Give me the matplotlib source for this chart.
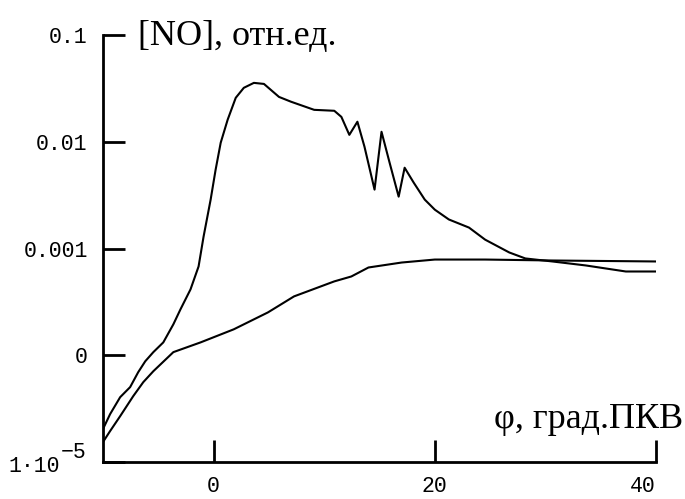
import matplotlib
matplotlib.use("Agg")
import matplotlib.pyplot as plt
from matplotlib.ticker import FixedLocator, FixedFormatter, NullLocator

# crank angle, deg (upper curve with peak)
phi_a = [-10.0, -9.36, -8.45, -7.55, -6.82, -6.18, -5.45, -4.55, -3.64, -3.0,
         -2.09, -1.36, -0.91, -0.27, 0.18, 0.64, 1.27, 2.0, 2.73, 3.64,
         4.55, 5.91, 7.0, 9.09, 10.91, 11.55, 12.27, 13.0, 13.64, 14.55,
         15.18, 15.91, 16.73, 17.27, 18.09, 19.09, 20.0, 21.27, 23.09, 24.55,
         26.73, 28.18, 30.64, 33.64, 37.27, 40.0]
no_a = [2.04e-5, 2.81e-5, 4.05e-5, 5.03e-5, 6.94e-5, 8.79e-5, 1.07e-4, 1.32e-4, 1.95e-4, 2.69e-4,
        4.14e-4, 6.79e-4, 1.29e-3, 2.87e-3, 5.47e-3, 9.79e-3, 1.61e-2, 2.58e-2, 3.20e-2, 3.56e-2,
        3.48e-2, 2.63e-2, 2.37e-2, 1.99e-2, 1.95e-2, 1.71e-2, 1.16e-2, 1.54e-2, 8.98e-3, 3.56e-3,
        1.24e-2, 6.37e-3, 3.06e-3, 5.71e-3, 4.14e-3, 2.87e-3, 2.31e-3, 1.87e-3, 1.57e-3, 1.21e-3,
        9.18e-4, 8.07e-4, 7.56e-4, 6.94e-4, 6.09e-4, 6.09e-4]

# lower, monotone curve
phi_b = [-10.0, -9.36, -8.45, -7.27, -6.36, -5.45, -3.64, -1.18, 1.82, 4.91,
         7.27, 10.91, 12.45, 14.0, 17.0, 20.0, 24.55, 30.64, 40.0]
no_b = [1.54e-5, 1.95e-5, 2.69e-5, 4.14e-5, 5.60e-5, 7.09e-5, 1.07e-4, 1.32e-4, 1.75e-4, 2.52e-4,
        3.56e-4, 4.92e-4, 5.47e-4, 6.64e-4, 7.39e-4, 7.88e-4, 7.88e-4, 7.72e-4, 7.56e-4]

y_ticks = [1e-5, 1e-4, 1e-3, 1e-2, 1e-1]
y_tick_labels = ["", "0", "0.001", "0.01", "0.1"]
x_ticks = [0, 20, 40]
x_tick_labels = ["0", "20", "40"]

MONO = ["Liberation Mono", "DejaVu Sans Mono"]
SERIF = ["Liberation Serif", "DejaVu Serif"]
plt.rcParams["font.family"] = MONO

fig = plt.figure(figsize=(6.85, 4.99), dpi=100)
ax = fig.add_axes([0.1504, 0.0741, 0.8073, 0.8558])

ax.plot(phi_a, no_a, color="black", lw=1.5)
ax.plot(phi_b, no_b, color="black", lw=1.5)

ax.set_yscale("log")
ax.set_xlim(-10, 40)
ax.set_ylim(1e-5, 0.1)

ax.yaxis.set_major_locator(FixedLocator(y_ticks))
ax.yaxis.set_major_formatter(FixedFormatter(y_tick_labels))
ax.yaxis.set_minor_locator(NullLocator())
ax.xaxis.set_major_locator(FixedLocator(x_ticks))
ax.xaxis.set_major_formatter(FixedFormatter(x_tick_labels))

for side in ["top", "right"]:
    ax.spines[side].set_visible(False)
for side in ["left", "bottom"]:
    ax.spines[side].set_linewidth(2)

ax.tick_params(axis="both", direction="in", length=16, width=2, labelsize=15.5)
ax.tick_params(axis="y", pad=11)
ax.tick_params(axis="x", pad=10)
ax.get_xticklabels()[-1].set_ha("right")

# bottom y label "1·10^-5" drawn as two pieces to keep the big exponent
ax.annotate("1·10", xy=(0, 1e-5), xycoords=("axes fraction", "data"),
            xytext=(-43, -10), textcoords="offset pixels",
            ha="right", va="baseline", fontsize=15.5)
ax.annotate("−5", xy=(0, 1e-5), xycoords=("axes fraction", "data"),
            xytext=(-42, 4), textcoords="offset pixels",
            ha="left", va="baseline", fontsize=15.5)

ax.set_ylabel("[NO], отн.ед.", rotation=0, ha="left", va="baseline", fontsize=26,
              family=SERIF)
ax.yaxis.set_label_coords(0.0633, 0.9766)
ax.set_xlabel("φ, град.ПКВ", ha="right", va="baseline", fontsize=26,
              family=SERIF)
ax.xaxis.set_label_coords(1.049, 0.0796)

fig.savefig("out.png", dpi=100)
